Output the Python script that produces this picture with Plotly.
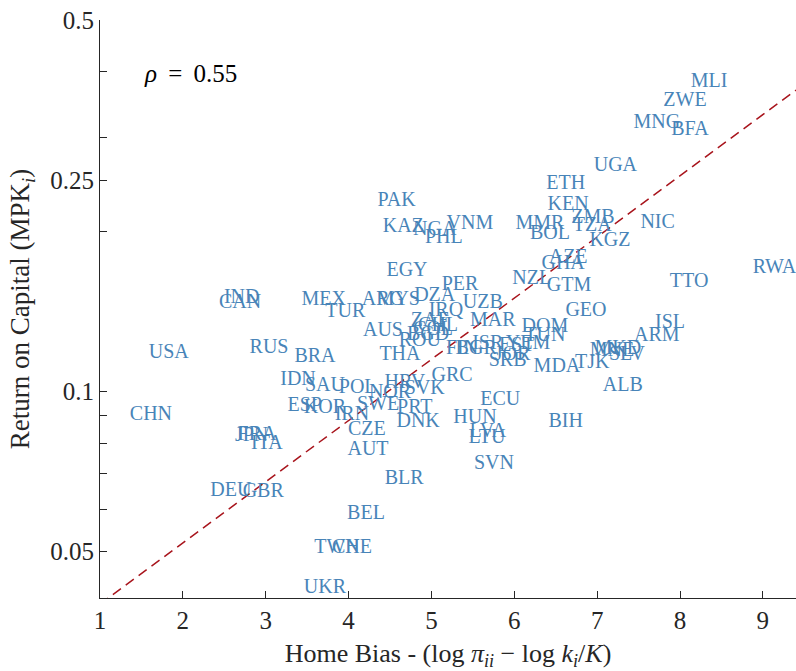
import plotly.graph_objects as go
import math

countries = ["MLI","ZWE","MNG","BFA","UGA","ETH","KEN","ZMB","TZA","NIC","MMR","BOL","KGZ",
             "PAK","KAZ","NGA","VNM","PHL","AZE","GHA","GTM","NZL","RWA","TTO","EGY","PER",
             "DZA","UZB","IRQ","ARG","MYS","MEX","TUR","IND","CAN","GEO","MAR","ZAF","CHL",
             "COL","BGD","ROU","AUS","DOM","TUN","ISL","ARM","USA","RUS","BRA","THA","FIN",
             "BGR","ISR","EST","YEM","JOR","SRB","MDA","TJK","MNE","MKD","SLV","ALB","IDN",
             "SAU","POL","NOR","HRV","SVK","GRC","SWE","PRT","ESP","KOR","IRN","ECU","DNK",
             "HUN","CZE","LVA","LTU","BIH","CHN","JPN","FRA","ITA","AUT","SVN","BLR","DEU",
             "GBR","BEL","TWN","CHE","UKR"]

home_bias = [8.35,8.06,7.72,8.12,7.22,6.62,6.65,6.95,6.94,7.73,6.31,6.43,7.155,
             4.58,4.66,5.04,5.465,5.15,6.65,6.59,6.66,6.21,9.14,8.11,4.705,5.345,
             5.04,5.62,5.175,4.415,4.60,3.70,3.96,2.71,2.69,6.865,5.74,4.98,5.08,
             5.02,4.96,4.86,4.415,6.37,6.37,7.88,7.72,1.83,3.04,3.595,4.62,5.37,
             5.54,5.68,6.03,6.165,5.98,5.92,6.515,6.94,7.18,7.25,7.36,7.31,3.39,
             3.715,4.11,4.50,4.68,4.92,5.25,4.355,4.80,3.47,3.715,4.04,5.83,4.84,
             5.525,4.22,5.68,5.67,6.62,1.615,2.83,2.895,3.015,4.235,5.755,4.67,2.58,
             2.97,4.21,3.86,4.04,3.715]

mpk = [0.382,0.352,0.320,0.310,0.266,0.246,0.224,0.212,0.205,0.2075,0.2066,0.198,0.192,
       0.228,0.204,0.201,0.2066,0.1945,0.178,0.174,0.158,0.163,0.171,0.161,0.1686,0.1587,
       0.151,0.147,0.142,0.149,0.149,0.149,0.141,0.150,0.147,0.142,0.136,0.136,0.133,
       0.1305,0.128,0.1245,0.130,0.132,0.127,0.1345,0.127,0.118,0.121,0.116,0.117,0.120,
       0.120,0.123,0.122,0.123,0.117,0.114,0.111,0.113,0.119,0.120,0.117,0.1024,0.105,
       0.1024,0.1015,0.0994,0.104,0.101,0.107,0.0944,0.0931,0.094,0.0931,0.0903,0.0964,0.0876,
       0.089,0.0846,0.0839,0.0817,0.0876,0.0903,0.0825,0.0829,0.0797,0.0776,0.073,0.0684,0.065,
       0.0648,0.0588,0.0507,0.0507,0.0428]

# fitted line: ln(MPK) = fit_intercept + fit_slope * home_bias
fit_intercept = -3.488
fit_slope = 0.265
fit_x = [1.0, 9.4]
rho_text = "<i>ρ</i>\u2009 = \u20090.55"

y_major = [0.05, 0.1, 0.25, 0.5]
y_major_labels = ["0.05", "0.1", "0.25", "0.5"]
y_minor = [0.06, 0.07, 0.08, 0.09, 0.2, 0.3, 0.4]
x_ticks = [1, 2, 3, 4, 5, 6, 7, 8, 9]

fit_y = [math.exp(fit_intercept + fit_slope * v) for v in fit_x]

FONT = "Liberation Serif"
AX = "#262626"

fig = go.Figure()
fig.add_trace(go.Scatter(
    x=fit_x, y=fit_y, mode="lines",
    line=dict(color="#a8141c", width=1.5, dash="10px,6px"),
    hoverinfo="skip", showlegend=False))
fig.add_trace(go.Scatter(
    x=home_bias, y=mpk, mode="text", text=countries,
    textposition="middle center",
    textfont=dict(family=FONT, size=20, color="#4884b8"),
    cliponaxis=False, showlegend=False))

fig.add_annotation(x=2.09, y=math.log10(0.397), xref="x", yref="y",
                   text=rho_text, showarrow=False,
                   font=dict(family=FONT, size=25, color="#000000"))

fig.update_layout(
    width=796, height=671,
    margin=dict(l=100, r=0, t=20, b=73),
    plot_bgcolor="white", paper_bgcolor="white",
    hovermode=False,
    font=dict(family=FONT, color=AX),
    xaxis=dict(range=[1, 9.4], tickvals=x_ticks, ticks="inside", ticklen=7,
               tickcolor=AX, showline=True, linecolor=AX, linewidth=1,
               showgrid=False, zeroline=False, automargin=False,
               tickfont=dict(family=FONT, size=25, color=AX),
               title=dict(text="Home Bias - (log <i>π<sub>ii</sub></i> − log <i>k<sub>i</sub></i>/<i>K</i>)",
                          font=dict(family=FONT, size=26, color=AX), standoff=10)),
    yaxis=dict(type="log", range=[math.log10(0.0409), math.log10(0.5)],
               tickvals=y_major, ticktext=y_major_labels,
               ticks="inside", ticklen=7, tickcolor=AX,
               minor=dict(tickvals=y_minor, ticks="inside", ticklen=7,
                          tickcolor=AX, showgrid=False),
               showline=True, linecolor=AX, linewidth=1,
               showgrid=False, zeroline=False, automargin=False,
               tickfont=dict(family=FONT, size=25, color=AX),
               title=dict(text="Return on Capital (MPK<sub><i>i</i></sub>)",
                          font=dict(family=FONT, size=27, color=AX), standoff=12)),
)

fig.write_html("out.html", config={"displayModeBar": False},
               post_script="document.body.style.margin='0';document.body.style.overflow='hidden';")
